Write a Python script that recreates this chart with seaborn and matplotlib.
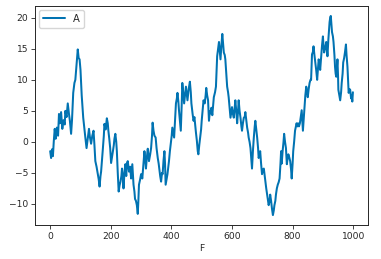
import matplotlib
matplotlib.use("Agg")
import matplotlib.pyplot as plt
import seaborn as sns
import pandas as pd

F = [0, 3, 6, 9, 12, 15, 18, 22, 26, 29, 32, 36, 40, 44, 48, 50, 54, 58, 62, 65,
     69, 72, 76, 80, 83, 87, 91, 94, 97, 100, 104, 109, 112, 116, 120, 124, 128, 131, 135, 139,
     143, 146, 149, 153, 157, 160, 163, 166, 168, 171, 174, 177, 179, 183, 187, 190, 192, 195, 198, 201,
     204, 207, 210, 212, 215, 218, 220, 223, 226, 229, 232, 235, 237, 240, 242, 245, 248, 251, 253, 256,
     260, 264, 267, 271, 275, 278, 280, 283, 286, 289, 291, 293, 297, 300, 304, 308, 311, 314, 316, 319,
     322, 326, 330, 333, 336, 338, 341, 344, 348, 351, 355, 358, 360, 363, 366, 369, 371, 374, 377, 379,
     381, 384, 387, 390, 392, 395, 398, 401, 403, 406, 409, 412, 415, 418, 420, 423, 425, 428, 431, 434,
     436, 439, 442, 445, 448, 451, 453, 457, 461, 464, 466, 470, 473, 476, 478, 481, 484, 487, 489, 492,
     495, 498, 500, 503, 506, 510, 513, 515, 518, 521, 524, 527, 529, 532, 535, 538, 540, 544, 547, 549,
     551, 554, 557, 560, 562, 565, 568, 571, 573, 576, 578, 581, 584, 587, 589, 592, 595, 598, 600, 603,
     606, 609, 611, 614, 617, 620, 622, 625, 628, 631, 633, 636, 639, 642, 644, 647, 650, 653, 655, 658,
     661, 664, 666, 669, 672, 675, 677, 680, 683, 686, 688, 691, 693, 696, 699, 702, 705, 708, 710, 713,
     716, 719, 721, 724, 726, 729, 732, 735, 738, 740, 743, 745, 748, 751, 754, 757, 760, 762, 764, 767,
     770, 772, 775, 778, 781, 784, 786, 789, 792, 795, 797, 800, 802, 805, 808, 811, 813, 816, 818, 821,
     824, 827, 830, 832, 834, 837, 839, 842, 845, 848, 850, 853, 856, 859, 861, 864, 867, 869, 872, 875,
     878, 881, 884, 886, 889, 891, 894, 897, 900, 902, 904, 907, 911, 913, 915, 918, 922, 924, 926, 928,
     930, 933, 935, 938, 940, 942, 944, 946, 948, 950, 951, 954, 957, 960, 962, 965, 967, 970, 973, 976,
     978, 981, 983, 985, 988, 990, 993, 995, 997, 999]

A = [-1.5, -2.6, -1.2, -2.3, 0.2, 2.1, 0.5, 2.3, 1.0, 4.5, 3.0, 4.8, 2.1, 3.5, 2.8, 5.0, 4.0, 6.2, 4.5, 3.4,
     1.3, 3.5, 7.9, 9.5, 10.0, 12.5, 14.9, 13.5, 13.3, 11.6, 7.5, 3.9, 2.5, 0.7, -1.0, 0.5, 2.1, 0.8, -0.3, 1.0,
     1.8, -0.5, -3.1, -4.0, -5.2, -6.0, -7.2, -5.5, -4.8, -3.0, -1.0, 1.0, 2.9, 2.0, 3.8, 3.0, 1.8, 0.5, -1.0, -3.4,
     -2.5, -1.5, -0.5, 0.5, 1.3, 0.0, -1.5, -5.0, -8.0, -7.0, -6.4, -5.5, -4.3, -6.0, -7.5, -5.0, -3.6, -5.5, -3.5, -3.1,
     -4.8, -4.0, -5.9, -3.6, -6.9, -8.0, -9.2, -9.5, -10.2, -11.6, -9.5, -6.9, -6.0, -5.2, -5.9, -3.5, -1.5, -3.0, -4.3, -2.5,
     -1.1, -3.1, -2.0, -1.0, 1.0, 3.1, 1.8, 1.0, 0.7, -1.0, -2.6, -3.5, -4.3, -5.5, -6.4, -5.0, -5.2, -3.0, -1.5, -3.5,
     -6.9, -6.0, -5.2, -4.0, -3.1, -1.5, -0.3, 1.0, 2.3, 1.5, 0.7, 3.5, 6.2, 7.0, 7.9, 6.5, 5.1, 3.5, 1.8, 6.0,
     9.5, 8.0, 6.2, 7.5, 8.9, 7.5, 6.7, 8.5, 9.7, 8.0, 6.2, 4.5, 3.4, 4.0, 3.0, 1.5, 0.2, -1.5, -2.0, -0.5,
     0.7, 2.0, 3.4, 5.0, 6.7, 6.2, 7.5, 8.7, 7.5, 6.7, 3.4, 5.0, 4.6, 5.5, 4.3, 6.0, 7.2, 8.0, 8.9, 11.5,
     13.8, 15.0, 16.1, 14.5, 13.3, 15.5, 17.4, 15.5, 14.4, 14.0, 13.3, 11.0, 8.9, 8.0, 7.2, 5.5, 3.9, 5.0, 5.6, 4.5,
     3.9, 5.5, 6.7, 5.0, 3.0, 5.0, 6.7, 5.0, 3.9, 2.5, 1.8, 3.0, 3.9, 4.0, 4.8, 3.5, 2.3, 1.5, 0.7, 0.0,
     -1.0, -3.0, -4.3, -1.5, 0.7, 2.5, 3.4, 2.0, 0.7, -1.0, -2.6, -2.0, -1.5, -3.5, -5.2, -4.5, -4.3, -5.5, -6.4, -7.5,
     -8.5, -9.5, -10.2, -9.5, -8.5, -9.5, -10.8, -11.8, -11.0, -10.2, -9.5, -8.5, -7.5, -6.9, -6.5, -5.9, -3.5, -1.5, -3.5, -1.5,
     0.0, 1.3, 0.0, -1.0, -3.6, -2.5, -2.0, -2.5, -3.1, -4.5, -5.9, -3.5, -1.5, 0.0, 1.8, 2.5, 3.0, 2.5, 3.0, 2.5,
     3.0, 4.0, 5.1, 3.5, 1.8, 4.0, 5.6, 7.5, 8.9, 8.0, 7.2, 8.5, 9.5, 10.0, 10.0, 14.1, 14.5, 15.4, 14.0, 12.8,
     11.5, 10.0, 12.0, 13.3, 12.5, 11.6, 13.5, 15.5, 17.0, 15.5, 14.4, 15.0, 16.1, 15.0, 13.8, 16.5, 19.3, 20.0, 20.3, 19.0,
     17.7, 17.0, 16.1, 14.0, 12.1, 11.0, 10.5, 12.0, 13.3, 10.5, 8.4, 7.5, 6.7, 8.0, 9.5, 11.0, 12.8, 13.5, 14.5, 15.7,
     14.0, 12.1, 10.0, 7.9, 8.5, 8.4, 7.0, 7.5, 6.5, 8.0]

SERIES = "A"
XLABEL = "F"

sns.set_theme(style="ticks", palette="colorblind")
plt.rcParams["font.family"] = ["DejaVu Sans"]

df = pd.DataFrame({XLABEL: F, SERIES: A})

fig = plt.figure(figsize=(3.81, 2.59), dpi=100)
ax = fig.add_axes([0.092, 0.131, 0.874, 0.846])
sns.lineplot(data=df, x=XLABEL, y=SERIES, label=SERIES, ax=ax, linewidth=1.45)

ax.set_xticks([0, 200, 400, 600, 800, 1000])
ax.set_yticks([-10, -5, 0, 5, 10, 15, 20])
ax.set_ylabel("")
ax.set_xlabel(XLABEL, fontsize=6.6, labelpad=2.5)
ax.tick_params(labelsize=6.6, length=2.8, width=0.6, pad=2)
for s in ax.spines.values():
    s.set_linewidth(0.7)
ax.legend(loc="upper left", fontsize=7.2, handlelength=2.2, borderaxespad=0.4)

fig.savefig("out.png", dpi=100)
